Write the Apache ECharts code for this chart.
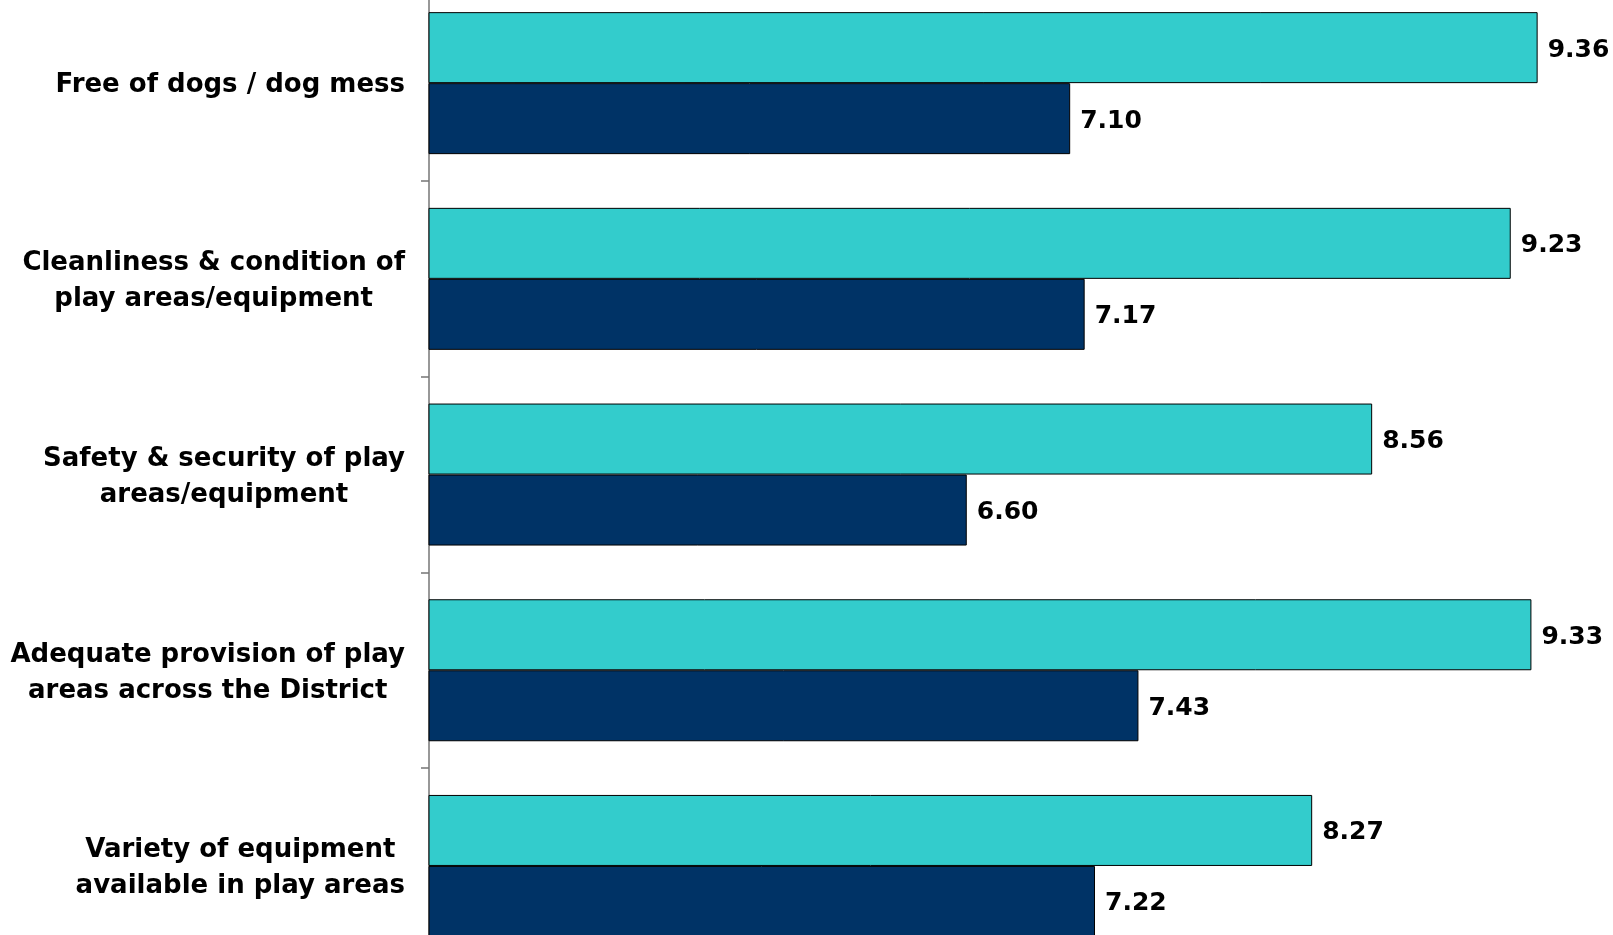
<!DOCTYPE html>
<html>
<head>
<meta charset="utf-8">
<script src="https://cdn.jsdelivr.net/npm/echarts@6/dist/echarts.min.js"></script>
<style>
  html, body { margin: 0; padding: 0; background: #fff; }
  #main { width: 1613px; height: 935px; }
</style>
</head>
<body>
<div id="main"></div>
<script>
var categories = [
  ['Free of dogs / dog mess'],
  ['Cleanliness & condition of', 'play areas/equipment'],
  ['Safety & security of play', 'areas/equipment'],
  ['Adequate provision of play', 'areas across the District'],
  ['Variety of equipment', 'available in play areas']
];
var tealValues = [9.36, 9.23, 8.56, 9.33, 8.27];
var navyValues = [7.10, 7.17, 6.60, 7.43, 7.22];

var chart = echarts.init(document.getElementById('main'));

var labelStyle = {
  show: true,
  position: 'right',
  distance: 10,
  offset: [0, 2.5],
  color: '#000',
  fontFamily: 'DejaVu Sans',
  fontWeight: 'bold',
  fontSize: 25,
  formatter: function (p) {
    return p.value.toFixed(2);
  }
};

var option = {
  animation: false,
  grid: {
    left: 429,
    top: -14.7,
    width: 1241,
    height: 978.5,
    outerBoundsMode: 'none'
  },
  xAxis: {
    type: 'value',
    min: 4,
    max: 10,
    show: false,
    splitLine: { show: false }
  },
  yAxis: {
    type: 'category',
    inverse: true,
    data: categories.map(function (c) { return c.join('\n'); }),
    axisLine: {
      show: true,
      lineStyle: { color: '#767676', width: 1.5 }
    },
    axisTick: {
      show: true,
      inside: false,
      length: 8,
      lineStyle: { color: '#767676', width: 1.5 }
    },
    axisLabel: {
      margin: 24,
      align: 'right',
      padding: [5, 0, 0, 0],
      color: '#000',
      fontFamily: 'DejaVu Sans',
      fontWeight: 'bold',
      fontSize: 26,
      lineHeight: 36,
      formatter: function (v) {
        return v.split('\n').map(function (s) { return '{c|' + s + '}'; }).join('\n');
      },
      rich: {
        c: {
          align: 'center',
          color: '#000',
          fontFamily: 'DejaVu Sans',
          fontWeight: 'bold',
          fontSize: 26,
          lineHeight: 36
        }
      }
    }
  },
  series: [
    {
      name: 'teal',
      type: 'bar',
      data: tealValues,
      barWidth: 71,
      barGap: '0%',
      itemStyle: { color: '#33CCCC', borderColor: '#000', borderWidth: 1 },
      label: labelStyle
    },
    {
      name: 'navy',
      type: 'bar',
      data: navyValues,
      barWidth: 71,
      barGap: '0%',
      itemStyle: { color: '#003366', borderColor: '#000', borderWidth: 1 },
      label: labelStyle
    }
  ]
};

chart.setOption(option);
</script>
</body>
</html>
